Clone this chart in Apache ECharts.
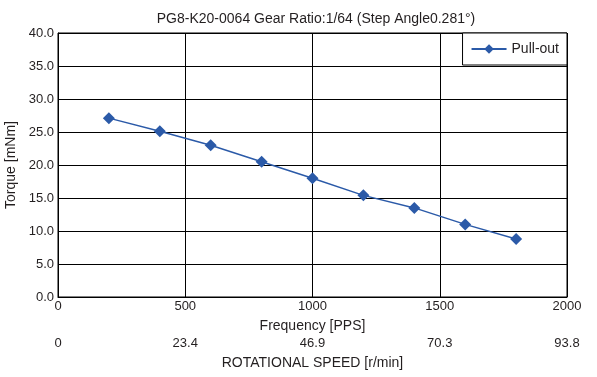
<!DOCTYPE html>
<html>
<head>
<meta charset="utf-8">
<script src="https://cdn.jsdelivr.net/npm/echarts@6/dist/echarts.min.js"></script>
<style>
    html, body { margin: 0; padding: 0; background: #fff; }
    #chart { width: 597px; height: 377px; }
</style>
</head>
<body>
<div id="chart"></div>
<script>
const frequency = [200, 400, 600, 800, 1000, 1200, 1400, 1600, 1800];
const pullOut = [27.1, 25.1, 23.0, 20.5, 18.0, 15.4, 13.5, 11.0, 8.8];
const rpmLabels = ['0', '23.4', '46.9', '70.3', '93.8'];

const lineColor = '#2b5aa8';
const textColor = '#231f20';
const font = 'Liberation Sans, Arial, sans-serif';

const chart = echarts.init(document.getElementById('chart'));

chart.setOption({
    animation: false,
    title: {
        text: 'PG8-K20-0064 Gear Ratio:1/64 (Step Angle0.281°)',
        left: 311,
        textAlign: 'center',
        top: 7,
        textStyle: {fontFamily: font, fontSize: 14, fontWeight: 'normal', color: textColor}
    },
    legend: {
        right: 30,
        top: 33,
        padding: [9, 8, 9, 8],
        itemWidth: 35,
        itemHeight: 12,
        itemGap: 5,
        backgroundColor: '#fff',
        borderColor: '#000',
        borderWidth: 1,
        textStyle: {fontFamily: font, fontSize: 14, color: textColor},
        data: ['Pull-out']
    },
    grid: {left: 58, right: 30, top: 33, bottom: 80, containLabel: false, outerBoundsMode: 'none'},
    xAxis: [{
        type: 'value',
        min: 0, max: 2000, interval: 500,
        name: 'Frequency [PPS]',
        nameLocation: 'middle',
        nameGap: 22,
        nameTextStyle: {fontFamily: font, fontSize: 14, color: textColor},
        axisLine: {lineStyle: {color: '#000', width: 1}},
        axisTick: {show: false},
        splitLine: {lineStyle: {color: '#000', width: 1}},
        axisLabel: {fontFamily: font, fontSize: 13, color: textColor, margin: 3,
            formatter: (v) => String(v)}
    }, {
        type: 'value',
        position: 'bottom',
        offset: 37,
        min: 0, max: 2000, interval: 500,
        name: 'ROTATIONAL SPEED [r/min]',
        nameLocation: 'middle',
        nameGap: 22,
        nameTextStyle: {fontFamily: font, fontSize: 14, color: textColor},
        axisLine: {show: false},
        axisTick: {show: false},
        splitLine: {show: false},
        axisLabel: {
            fontFamily: font, fontSize: 13, color: textColor, margin: 3,
            formatter: (v) => rpmLabels[Math.round(v / 500)]
        }
    }],
    yAxis: {
        type: 'value',
        min: 0, max: 40, interval: 5,
        name: 'Torque [mNm]',
        nameLocation: 'middle',
        nameGap: 37,
        nameTextStyle: {fontFamily: font, fontSize: 14, color: textColor},
        axisLine: {show: true, lineStyle: {color: '#000', width: 1}},
        axisTick: {show: false},
        splitLine: {lineStyle: {color: '#000', width: 1}},
        axisLabel: {
            fontFamily: font, fontSize: 13, color: textColor, margin: 4,
            formatter: (v) => v.toFixed(1)
        }
    },
    series: [{
        name: 'Pull-out',
        type: 'line',
        xAxisIndex: 0,
        data: frequency.map((f, i) => [f, pullOut[i]]),
        symbol: 'diamond',
        symbolSize: 12,
        lineStyle: {color: lineColor, width: 1.5},
        itemStyle: {color: lineColor}
    }],
    graphic: [{
        type: 'rect',
        shape: {x: 58, y: 33, width: 509, height: 264},
        style: {fill: 'none', stroke: '#000', lineWidth: 1},
        silent: true,
        z: 0
    }]
});
</script>
</body>
</html>
